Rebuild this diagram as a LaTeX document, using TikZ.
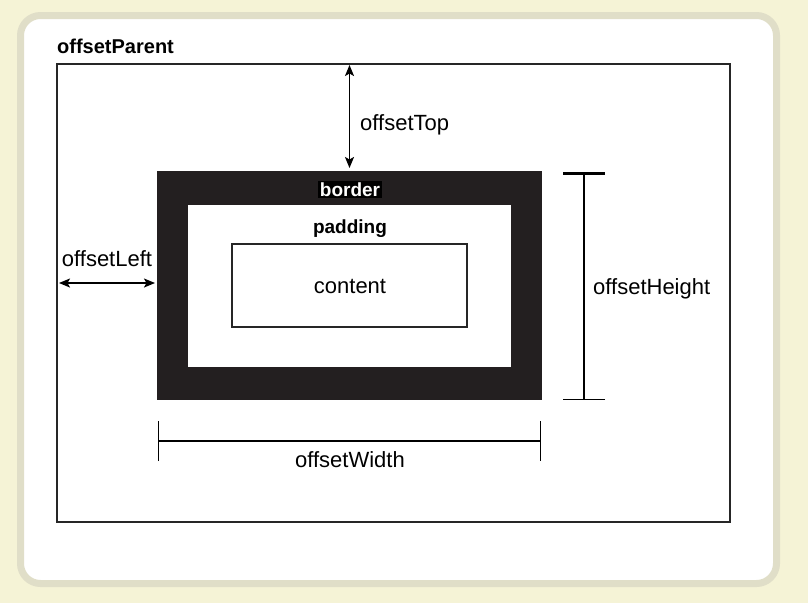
\documentclass[tikz,border=0pt]{standalone}
\usepackage{fontspec}
\setmainfont{Liberation Sans}
\usetikzlibrary{arrows.meta,calc}
\definecolor{paper}{HTML}{F5F3D6}
\definecolor{frame}{HTML}{E0DEC8}
\definecolor{ink}{HTML}{231F20}
\begin{document}
\begin{tikzpicture}[x=1pt,y=-1pt,font=\fontsize{22}{26}\selectfont,
    nothing/.style={inner sep=0pt},
    base/.style={rectangle,inner sep=0pt,outer sep=0pt},
    dim/.style={line width=1.6pt,{Stealth[length=11pt,width=9pt,inset=2.5pt]}-{Stealth[length=11pt,width=9pt,inset=2.5pt]}},
    span/.style={line width=1.4pt}]

    \useasboundingbox[fill=paper] (0,0) rectangle (808,603);
    \draw[frame,fill=white,line width=7pt,rounded corners=20pt] (20.5,15.5) rectangle (776.5,583.5);

    \node[base,draw=black!85,line width=1.8pt,minimum width=673pt,minimum height=458pt] (parent) at (393.5,293) {};
    \node[nothing,anchor=base west,font=\fontsize{20}{24}\selectfont\bfseries] (parentlbl) at (57,53) {offsetParent};

    \node[base,fill=ink,minimum width=385pt,minimum height=229pt] (bord) at (349.5,285.5) {};
    \node[base,fill=white,minimum width=323pt,minimum height=162pt] (pad) at (349.5,286) {};
    \node[base,draw=black!85,line width=1.5pt,minimum width=235pt,minimum height=83pt] (cont) at (349.5,285.5) {};

    \node[nothing,fill=black,text=white,inner sep=1.5pt,anchor=base,font=\fontsize{19}{23}\selectfont\bfseries] (bordlbl) at (350,196) {border};
    \node[nothing,anchor=base,font=\fontsize{19}{23}\selectfont\bfseries] (padlbl) at (350,233) {padding};
    \node[nothing,anchor=base] (contlbl) at (350,293) {content};

    % offsetTop
    \draw[dim,shorten <=1pt,shorten >=3pt] (bord.north |- parent.north) -- (bord.north);
    \node[nothing,anchor=base west] (toplbl) at (360,130) {offsetTop};

    % offsetLeft
    \coordinate (lefty) at (0,283);
    \draw[dim,shorten <=2pt,shorten >=2pt] (parent.west |- lefty) -- (bord.west |- lefty);
    \node[nothing,anchor=base] (leftlbl) at (107,266) {offsetLeft};

    % offsetHeight
    \coordinate (htop) at ($(bord.north east)+(42,1)$);
    \coordinate (hbot) at ($(bord.south east)+(42,0)$);
    \draw[span,{Bar[width=42pt,line width=3pt]}-{Bar[width=42pt]}] (htop) -- (hbot);
    \node[nothing,anchor=base west] (heightlbl) at (593,294) {offsetHeight};

    % offsetWidth
    \coordinate (wleft) at ($(bord.south west)+(1,41)$);
    \coordinate (wright) at ($(bord.south east)+(-1,41)$);
    \draw[span,{Bar[width=40pt]}-{Bar[width=40pt]}] (wleft) -- (wright);
    \node[nothing,anchor=base] (widthlbl) at (350,467) {offsetWidth};
\end{tikzpicture}
\end{document}
